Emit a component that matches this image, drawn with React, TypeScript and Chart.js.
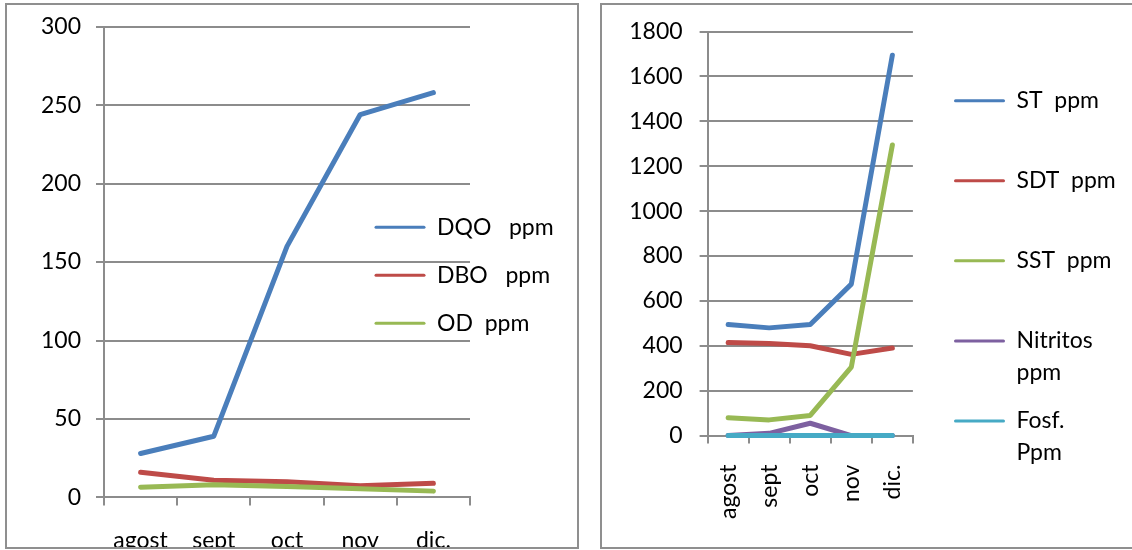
import React, { useEffect, useRef } from "react";
import { Chart, registerables } from "chart.js";

Chart.register(...registerables);

// ---------- data ----------
const months = ["agost", "sept", "oct", "nov", "dic."];

// left chart
const dqo = [28, 39, 160, 244, 258];
const dbo = [16, 11, 10, 7.5, 9];
const od = [6.5, 8, 7, 5.5, 4];
const leftNames = ["DQO   ppm", "DBO   ppm", "OD  ppm"];
const leftMax = 300;
const leftStep = 50;

// right chart
const st = [495, 480, 495, 675, 1695];
const sdt = [415, 410, 400, 362, 390];
const sst = [80, 70, 90, 305, 1295];
const nitritos = [0, 10, 55, 0, 0];
const fosf = [1, 1, 1, 1, 1];
const rightNames = ["ST  ppm", "SDT  ppm", "SST  ppm", "Nitritos ppm", "Fosf. Ppm"];
const rightLegendLines = [["ST  ppm", ""], ["SDT  ppm", ""], ["SST  ppm", ""], ["Nitritos", "ppm"], ["Fosf.", "Ppm"]];
const rightMax = 1800;
const rightStep = 200;

const colors = ["#4A7EBB", "#BE4B48", "#98B954", "#7D60A0", "#46AAC5"];

// ---------- styling ----------
const FONT_FAMILY = "Lato, 'Liberation Sans', sans-serif";
const FS = 23;
const GRID = "#8c8c8c";

function legendMover(x: number, y: number, fs: number) {
  return {
    id: "legendMover",
    afterLayout(chart: any) {
      const lg = chart.legend;
      if (!lg) return;
      const pad = lg.options.labels.padding;
      lg.left = x - pad;
      lg.right = chart.width;
      lg.width = lg.right - lg.left;
      lg.top = y - fs / 2 - pad;
      lg.bottom = chart.height;
      lg.height = lg.bottom - lg.top;
    },
  };
}

type Cfg = {
  width: number;
  height: number;
  names: string[];
  legendText: (string | string[])[];
  series: number[][];
  max: number;
  step: number;
  area: { left: number; right: number; top: number; bottom: number };
  yPad: number;
  xPad: number;
  rotate: boolean;
  legendX: number;
  legendY: number;
  legendPad: number;
  legendLineHeight: number;
};

function buildChart(canvas: HTMLCanvasElement, c: Cfg) {
  const n = c.series.length;
  const font = { family: FONT_FAMILY, size: FS };
  return new Chart(canvas, {
    type: "line",
    data: {
      labels: months,
      datasets: c.series.map((d, i) => ({
        label: c.names[i],
        data: d,
        borderColor: colors[i],
        backgroundColor: colors[i],
        borderWidth: 5,
        pointRadius: 0,
        tension: 0,
        clip: false as any,
        borderJoinStyle: "round" as const,
        borderCapStyle: "round" as const,
        order: n - i,
      })),
    },
    options: {
      animation: false,
      responsive: false,
      maintainAspectRatio: false,
      events: [],
      layout: {
        padding: {
          left: 0,
          top: c.area.top,
          right: c.width - c.area.right - 1,
          bottom: 0,
        },
      },
      plugins: {
        tooltip: { enabled: false },
        title: { display: false },
        legend: {
          display: true,
          position: "right",
          align: "start",
          maxWidth: 1,
          labels: {
            boxWidth: 51,
            boxHeight: 3,
            padding: c.legendPad,
            color: "#000",
            useBorderRadius: true,
            borderRadius: 1.5,
            font: { family: FONT_FAMILY, size: FS, lineHeight: c.legendLineHeight },
            generateLabels: (chart: any) =>
              chart.data.datasets.map((ds: any, i: number) => ({
                text: c.legendText[i],
                fillStyle: ds.borderColor,
                strokeStyle: ds.borderColor,
                lineWidth: 0,
                hidden: false,
                datasetIndex: i,
                fontColor: "#000",
                borderRadius: 1.5,
              })),
          },
        },
      },
      scales: {
        x: {
          type: "category",
          offset: true,
          afterFit: (s: any) => {
            s.height = c.height - c.area.bottom;
            s.paddingLeft = 0;
            s.paddingRight = 0;
          },
          grid: {
            offset: true,
            drawOnChartArea: false,
            drawTicks: true,
            tickLength: 8,
            color: GRID,
            lineWidth: 2,
          },
          border: { color: GRID, width: 2 },
          ticks: {
            autoSkip: false,
            maxRotation: c.rotate ? 90 : 0,
            minRotation: c.rotate ? 90 : 0,
            padding: c.xPad,
            color: "#000",
            font,
          },
        },
        y: {
          type: "linear",
          min: 0,
          max: c.max,
          afterFit: (s: any) => {
            s.width = c.area.left;
            s.paddingTop = 0;
            s.paddingBottom = 0;
          },
          grid: {
            color: GRID,
            lineWidth: 2,
            tickLength: 8,
            drawTicks: true,
          },
          border: { color: GRID, width: 2 },
          ticks: {
            stepSize: c.step,
            padding: c.yPad,
            color: "#000",
            font,
            callback: (v: any) => String(v),
          },
        },
      },
    },
    plugins: [legendMover(c.legendX, c.legendY, FS)],
  } as any);
}

function ChartBox(props: { left: number; top: number; width: number; height: number; cfg: Cfg }) {
  const ref = useRef<HTMLCanvasElement | null>(null);
  useEffect(() => {
    if (!ref.current) return;
    const ch = buildChart(ref.current, props.cfg);
    return () => ch.destroy();
  }, []);
  return (
    <>
      <canvas
        ref={ref}
        width={props.cfg.width}
        height={props.cfg.height}
        style={{
          position: "absolute",
          left: props.left,
          top: props.top,
          width: props.cfg.width,
          height: props.cfg.height,
        }}
      />
      <div
        style={{
          position: "absolute",
          left: props.left,
          top: props.top,
          width: props.width,
          height: props.height,
          border: "2px solid #8f8f8f",
          boxSizing: "border-box",
          pointerEvents: "none",
        }}
      />
    </>
  );
}

const leftCfg: Cfg = {
  width: 574,
  height: 544,
  names: leftNames,
  legendText: leftNames,
  series: [dqo, dbo, od],
  max: leftMax,
  step: leftStep,
  area: { left: 99, right: 465, top: 23.7, bottom: 494.4 },
  yPad: 15,
  xPad: 21,
  rotate: false,
  legendX: 369.5,
  legendY: 224.3,
  legendPad: 25,
  legendLineHeight: 1.2,
};

const rightCfg: Cfg = {
  width: 532,
  height: 544,
  names: rightNames,
  legendText: rightLegendLines,
  series: [st, sdt, sst, nitritos, fosf],
  max: rightMax,
  step: rightStep,
  area: { left: 107.6, right: 312.9, top: 28.6, bottom: 432.6 },
  yPad: 17,
  xPad: 21,
  rotate: true,
  legendX: 354,
  legendY: 97.7,
  legendPad: 16.6,
  legendLineHeight: 1.38,
};

export default function App() {
  return (
    <div
      style={{
        position: "absolute",
        left: 0,
        top: 0,
        width: 1132,
        height: 550,
        overflow: "hidden",
        background: "#fff",
      }}
    >
      <ChartBox left={5} top={3} width={574} height={546} cfg={leftCfg} />
      <ChartBox left={600} top={3} width={540} height={546} cfg={rightCfg} />
    </div>
  );
}
